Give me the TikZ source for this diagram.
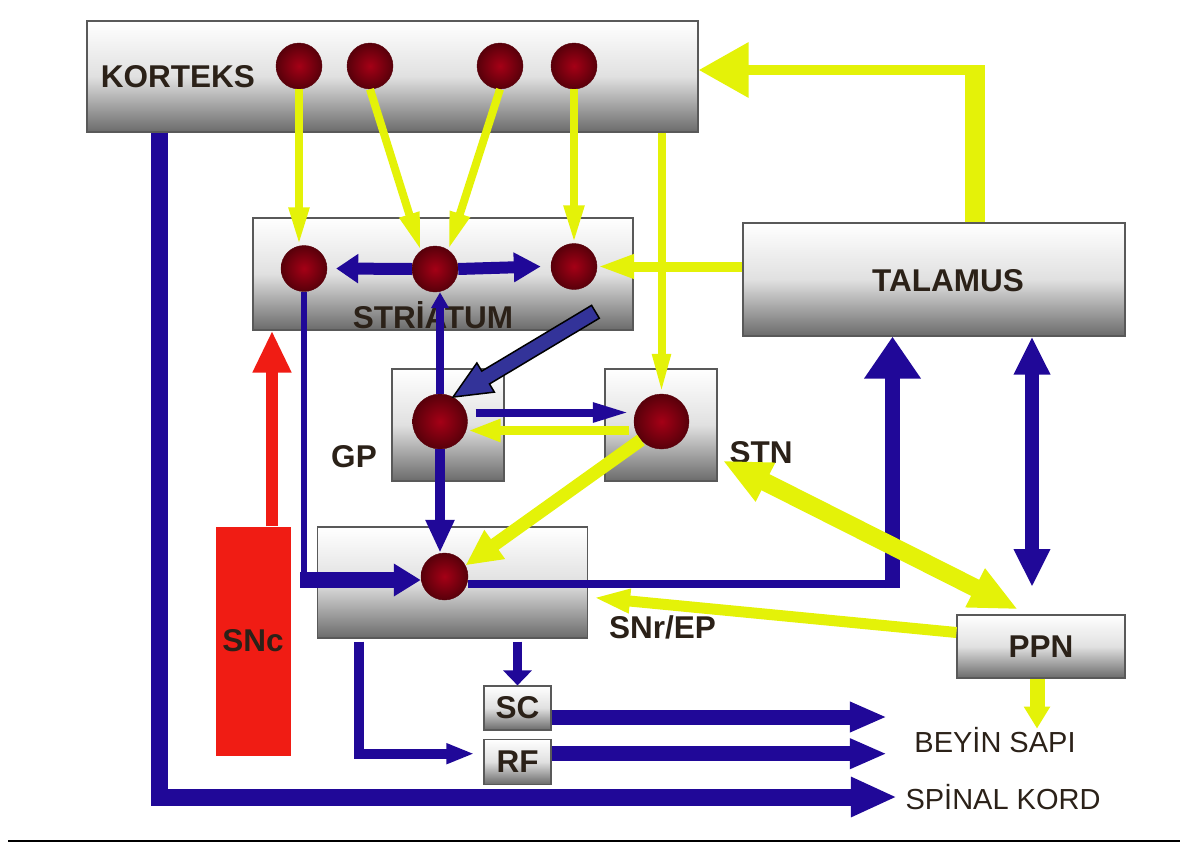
\documentclass[tikz,border=0pt]{standalone}
\usepackage{fontspec}
\setmainfont{Liberation Sans}
\usetikzlibrary{arrows.meta, positioning, calc}
\definecolor{nblue}{RGB}{32,8,152}
\definecolor{nyel}{RGB}{228,242,8}
\definecolor{nred}{RGB}{240,28,20}
\definecolor{ink}{RGB}{43,33,24}
\definecolor{cellin}{RGB}{165,0,22}
\definecolor{cellout}{RGB}{88,0,10}
\definecolor{blockb}{RGB}{51,51,153}

\begin{document}
\begin{tikzpicture}[x=1pt, y=-1pt,
    region/.style={draw=black!65, line width=1.2pt, top color=white,
        bottom color=black!58, middle color=black!12, inner sep=0pt},
    cell/.style={circle, minimum size=#1, inner sep=0pt, draw=cellout,
        inner color=cellin, outer color=cellout},
    cell/.default=46pt,
    lbl/.style={font=\fontsize{31.5}{36}\selectfont\bfseries, text=ink},
    outlbl/.style={font=\fontsize{29}{34}\selectfont, text=ink}]
    \useasboundingbox (0,0) rectangle (1180,843);

    % boxes
    \node[region, minimum width=611pt, minimum height=111pt] (kortex) at (392.5,76.5) {};
    \node[lbl] (kortexlbl) at (178,77) {KORTEKS};
    \node[region, minimum width=380pt, minimum height=112pt] (striatum) at (443,274) {};
    \node[lbl] (striatumlbl) at (433,315) {STRİATUM};
    \node[region, minimum width=382pt, minimum height=113pt] (talamus) at (934,279.5) {};
    \node[lbl] (talamuslbl) at (948,281) {TALAMUS};
    \node[region, minimum width=112pt, minimum height=112pt] (gp) at (448,425) {};
    \node[lbl] (gplbl) at (354,457) {GP};
    \node[region, minimum width=112pt, minimum height=112pt] (stn) at (661,425) {};
    \node[lbl] (stnlbl) at (761,453) {STN};
    \node[region, minimum width=270pt, minimum height=111pt] (snr) at (452.5,582.5) {};
    \node[lbl] (snrlbl) at (662.5,627) {SNr/EP};
    \node[region, lbl, minimum width=168pt, minimum height=63pt] (ppn) at (1041,646.5) {PPN};
    \node[fill=nred, lbl, inner sep=0pt, minimum width=75pt, minimum height=229pt] (snc) at (253,641) {SNc};
    \node[region, lbl, minimum width=67pt, minimum height=44pt] (sc) at (517.5,708) {SC};
    \node[region, lbl, minimum width=67pt, minimum height=45pt, below=8pt of sc] (rf) {RF};
    \node[outlbl] (beyin) at (995,740) {BEYİN SAPI};
    \node[outlbl] (spinal) at (1003,797) {SPİNAL KORD};

    % neurons
    \node[cell] (c1) at (299,66) {};
    \node[cell] (c2) at (370,66) {};
    \node[cell] (c3) at (500,66) {};
    \node[cell] (c4) at (574,66) {};
    \node[cell] (s1) at (304,268.5) {};
    \node[cell] (s2) at (435,269) {};
    \node[cell] (s3) at (574,266.5) {};
    \node[cell=55pt] (gpn) at (440,421.5) {};
    \node[cell=55pt] (stnn) at (661.5,421.5) {};
    \node[cell=47pt] (snrn) at (444.5,576.5) {};

    % korteks -> striatum, STN
    \draw[nyel, line width=8pt, -{Triangle[length=38pt,width=19pt]}] (c1.south) -- (c1.south |- s1.north);
    \draw[nyel, line width=8pt, -{Triangle[length=38pt,width=19pt]}] (c2.south) -- (s2.128);
    \draw[nyel, line width=8pt, -{Triangle[length=38pt,width=19pt]}] (c3.south) -- (s2.55);
    \draw[nyel, line width=8pt, -{Triangle[length=38pt,width=19pt]}] (c4.south) -- (c4.south |- s3.north);
    \draw[nyel, line width=8pt, -{Triangle[length=40pt,width=17pt]}] (kortex.south -| stnn) -- (stnn.north);

    % talamus -> korteks, striatum
    \coordinate (tk) at (975,70);
    \draw[nyel, line width=20pt] (talamus.north -| tk) -- ($(tk)+(0,-5)$);
    \draw[nyel, line width=10pt, -{Triangle[length=50pt,width=53pt]}] ($(tk)+(10,0)$) -- (kortex.east |- tk);
    \draw[nyel, line width=10pt, -{Triangle[length=37pt,width=22pt]}] (talamus.west |- s3) -- (s3.east);

    % striatum
    \draw[nblue, line width=12pt, -{Triangle[length=22pt,width=28pt]}] (s2.west) -- ($(s1.east)+(9,0)$);
    \draw[nblue, line width=12pt, -{Triangle[length=27pt,width=28pt]}] (s2.east) -- ($(s3.west)+(-10,0)$);
    \draw[nblue, line width=8pt, -{Triangle[length=16pt,width=17pt]}] (gpn.north) -- (gpn.north |- s2.south);

    % striatum -> GP
    \begin{scope}[shift={(gpn.62)}, rotate=30.9]
        \draw[draw=black, line width=1.5pt, fill=blockb] (0,0) -- (38,17) -- (38,7.5) -- (166,7.5)
            -- (166,-7.5) -- (38,-7.5) -- (38,-17) -- cycle;
    \end{scope}

    % GP, STN -> SNr
    \draw[nblue, line width=8pt, -{Triangle[length=37pt,width=18pt]}] ($(gpn.east)+(8,-9)$) -- ($(stnn.west)+(-4,-9)$);
    \draw[nyel, line width=9pt, -{Triangle[length=33pt,width=21pt]}] ($(stnn.west)+(-5,9)$) -- ($(gpn.east)+(0,9)$);
    \draw[nblue, line width=10pt, -{Triangle[length=33pt,width=27pt]}] (gpn.south) -- (gpn.south |- snrn.north);
    \draw[nyel, line width=13pt, -{Triangle[length=36pt,width=33pt]}] (stnn.222) -- (snrn.28);
    \coordinate (sk) at (s1.south |- 0,580);
    \draw[nblue, line width=6pt] (s1.south) -- ($(sk)+(0,8)$);
    \draw[nblue, line width=16pt, -{Triangle[length=27pt,width=31pt]}] ($(sk)+(-4,0)$) -- (snrn.west |- sk);

    % SNr -> talamus
    \coordinate (st) at (892.5,584);
    \draw[nblue, line width=8pt] (snrn.east |- st) -- ($(st)+(7.5,0)$);
    \draw[nblue, line width=15pt, -{Triangle[length=42pt,width=54pt]}] ($(st)+(0,4)$) -- (talamus.south -| st);

    % talamus <-> PPN
    \coordinate (tp) at (1032,587);
    \draw[nblue, line width=14pt, {Triangle[length=38pt,width=34pt]}-{Triangle[length=38pt,width=34pt]}] (talamus.south -| tp) -- (tp);

    % PPN
    \draw[nyel, line width=18pt, {Triangle[length=48pt,width=40pt]}-{Triangle[length=48pt,width=40pt]}] ($(stn.south east)+(5,-21)$) -- ($(ppn.north)+(-23,-5)$);
    \draw[nyel, line width=11pt, -{Triangle[length=37pt,width=22pt]}] ($(ppn.west)+(0,-14)$) -- ($(snr.east)+(5,15)$);
    \draw[nyel, line width=15pt, -{Triangle[length=22pt,width=25pt]}] ($(ppn.south)+(-4,0)$) -- ($(ppn.south)+(-4,50)$);

    % SNc -> striatum
    \coordinate (sncs) at ($(snc.north)+(19,0)$);
    \draw[nred, line width=12pt, -{Triangle[length=42pt,width=36pt]}] (sncs) -- (sncs |- striatum.south);

    % SNr -> SC, RF -> beyin sapi
    \draw[nblue, line width=9pt, -{Triangle[length=15pt,width=28pt]}, shorten <=3pt] (snr.south -| sc) -- (sc.north);
    \draw[nblue, line width=10pt, -{Triangle[length=28pt,width=19pt]}, shorten <=3pt] ($(snr.south west)+(42,0)$) |- ($(rf.west)+(-9,-8)$);
    \draw[nblue, line width=15pt, -{Triangle[length=37pt,width=28pt]}] ($(sc.east)+(0,9)$) -- ($(sc.east -| beyin.west)+(-24,9)$);
    \draw[nblue, line width=15pt, -{Triangle[length=37pt,width=28pt]}] ($(rf.east)+(0,-8)$) -- ($(rf.east -| beyin.west)+(-24,-8)$);

    % korteks -> spinal kord
    \coordinate (ks) at ($(kortex.south west)+(73,0)$);
    \draw[nblue, line width=17pt, -{Triangle[length=46pt,width=37pt]}, shorten >=5pt] (ks) |- (spinal.west);

    \draw[line width=2pt] (8,841) -- (1180,841);
\end{tikzpicture}
\end{document}
